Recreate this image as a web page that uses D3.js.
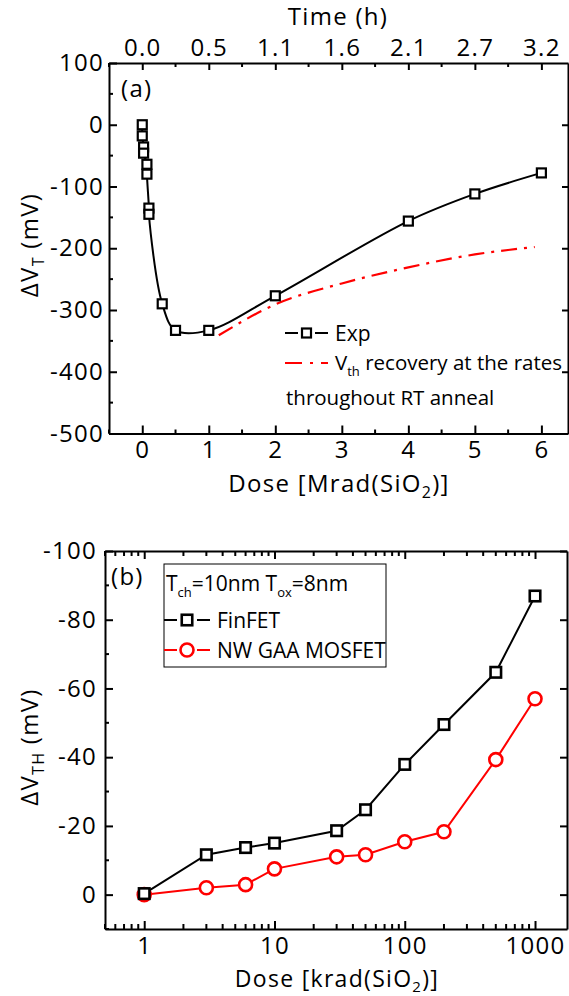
<!DOCTYPE html>
<html><head><meta charset="utf-8">
<script src="https://cdn.jsdelivr.net/npm/d3@7"></script>
<style>
html,body{margin:0;padding:0;background:#fff;}
svg text{font-family:"Open Sans",sans-serif;fill:#000;}
</style></head>
<body>
<svg id="c" width="569" height="996"></svg>
<script>
// ---------- Panel (a) data ----------
const expDose = [0, 0, 0.02, 0.02, 0.07, 0.07, 0.1, 0.1, 0.3, 0.5, 1, 2, 4, 5, 6];
const expDV   = [0, -18, -36, -46, -64, -80, -135, -145, -290, -333, -333, -277, -156, -112, -78];
const recDose = [1.15, 2, 3, 4, 5, 5.9];
const recDV   = [-341, -291, -257, -231, -210, -198];
const doseTicksA = [0, 1, 2, 3, 4, 5, 6];
const timeLabels = ["0.0", "0.5", "1.1", "1.6", "2.1", "2.7", "3.2"];
const yTicksA = [100, 0, -100, -200, -300, -400, -500];

// ---------- Panel (b) data ----------
const doseK = [1, 3, 6, 10, 30, 50, 100, 200, 500, 1000];
const finfet = [-0.3, -11.6, -13.7, -15, -18.6, -24.7, -37.9, -49.5, -64.7, -86.9];
const nwgaa  = [0, -2, -2.9, -7.5, -11, -11.6, -15.4, -18.3, -39.3, -57];
const xTicksB = [1, 10, 100, 1000];
const yTicksB = [0, -20, -40, -60, -80, -100];

const svg = d3.select("#c");
const FS = 24;
const LS = "1.3px";
const LFS = 21;
const fmt = d => String(d);
const DASH = "16,7,3,7";

// ====== Panel (a) ======
const xa = d3.scaleLinear().domain([-0.5, 6.4]).range([109, 568]);
const ya = d3.scaleLinear().domain([-500, 100]).range([433.5, 63]);
const ga = svg.append("g");

function styleAxis(g){
  g.selectAll("path.domain").attr("stroke","#000").attr("stroke-width",2);
  g.selectAll(".tick line").attr("stroke","#000").attr("stroke-width",2);
  g.selectAll(".tick text").attr("font-size",FS).attr("letter-spacing",LS).attr("font-family","Open Sans");
}
const minorA = d3.range(-0.5, 6.41, 0.5).filter(v => Math.abs(v - Math.round(v)) > 0.01);
const minorYA = d3.range(-450, 100, 100);

// bottom axis
let g = ga.append("g").attr("transform",`translate(0,${ya.range()[0]})`)
  .call(d3.axisBottom(xa).tickValues(doseTicksA).tickSizeInner(-8).tickSizeOuter(0).tickPadding(7).tickFormat(fmt));
styleAxis(g);
g.selectAll(".minor").data(minorA).enter().append("line")
  .attr("x1",d=>xa(d)).attr("x2",d=>xa(d)).attr("y1",0).attr("y2",-4).attr("stroke","#000").attr("stroke-width",2);
// top axis
g = ga.append("g").attr("transform",`translate(0,${ya.range()[1]})`)
  .call(d3.axisTop(xa).tickValues(doseTicksA).tickSizeInner(-7).tickSizeOuter(0).tickPadding(7).tickFormat((d,i)=>timeLabels[i]));
styleAxis(g);
g.selectAll(".minor").data(minorA).enter().append("line")
  .attr("x1",d=>xa(d)).attr("x2",d=>xa(d)).attr("y1",0).attr("y2",4).attr("stroke","#000").attr("stroke-width",2);
// left axis
g = ga.append("g").attr("transform",`translate(${xa.range()[0]},0)`)
  .call(d3.axisLeft(ya).tickValues(yTicksA).tickSizeInner(-8).tickSizeOuter(0).tickPadding(5).tickFormat(fmt));
styleAxis(g);
g.selectAll(".minor").data(minorYA).enter().append("line")
  .attr("y1",d=>ya(d)).attr("y2",d=>ya(d)).attr("x1",0).attr("x2",4).attr("stroke","#000").attr("stroke-width",2);
// right axis
g = ga.append("g").attr("transform",`translate(${xa.range()[1]},0)`)
  .call(d3.axisRight(ya).tickValues(yTicksA.slice(1,-1)).tickSizeInner(-6).tickSizeOuter(0).tickFormat(""));
styleAxis(g);

// exp curve
const lineA = d3.line().x((d,i)=>xa(expDose[i])).y((d,i)=>ya(expDV[i])).curve(d3.curveCatmullRom.alpha(0.5));
ga.append("path").attr("d", lineA(expDose)).attr("fill","none").attr("stroke","#000").attr("stroke-width",2);
// recovery line
const lineR = d3.line().x((d,i)=>xa(recDose[i])).y((d,i)=>ya(recDV[i])).curve(d3.curveMonotoneX);
ga.append("path").attr("d", lineR(recDose)).attr("fill","none").attr("stroke","#ff0000").attr("stroke-width",2.2)
  .attr("stroke-dasharray",DASH);
// squares
const SQ = 9;
ga.selectAll("rect.exp").data(expDose).enter().append("rect")
  .attr("x",(d,i)=>xa(expDose[i])-SQ/2).attr("y",(d,i)=>ya(expDV[i])-SQ/2)
  .attr("width",SQ).attr("height",SQ).attr("fill","#fff").attr("stroke","#000").attr("stroke-width",2.2);

ga.append("text").attr("x",121).attr("y",97).attr("font-size",FS).attr("letter-spacing",LS).text("(a)");

// legend (a)
ga.append("line").attr("x1",285).attr("x2",298).attr("y1",333).attr("y2",333).attr("stroke","#000").attr("stroke-width",2);
ga.append("line").attr("x1",315).attr("x2",328).attr("y1",333).attr("y2",333).attr("stroke","#000").attr("stroke-width",2);
ga.append("rect").attr("x",306.5-SQ/2).attr("y",333-SQ/2).attr("width",SQ).attr("height",SQ).attr("fill","#fff").attr("stroke","#000").attr("stroke-width",2.2);
ga.append("text").attr("x",335).attr("y",341).attr("font-size",LFS).text("Exp");
ga.append("line").attr("x1",285).attr("x2",328).attr("y1",363).attr("y2",363).attr("stroke","#ff0000").attr("stroke-width",2.2).attr("stroke-dasharray","17,8,3,8");
let t = ga.append("text").attr("x",335).attr("y",370).attr("font-size",20.5);
t.append("tspan").text("V");
t.append("tspan").attr("font-size",13).attr("dy",6).text("th");
t.append("tspan").attr("dy",-6).text(" recovery at the rates");
ga.append("text").attr("x",286).attr("y",405).attr("font-size",20.5).text("throughout RT anneal");

// axis titles (a)
t = ga.append("text").attr("x",339).attr("y",492).attr("text-anchor","middle").attr("font-size",FS).attr("letter-spacing",LS);
t.append("tspan").text("Dose [Mrad(SiO");
t.append("tspan").attr("font-size",16).attr("dy",6).text("2");
t.append("tspan").attr("dy",-6).text(")]");
ga.append("text").attr("x",338).attr("y",25).attr("text-anchor","middle").attr("font-size",FS).attr("letter-spacing",LS).text("Time (h)");
t = ga.append("text").attr("transform","translate(38,245) rotate(-90)").attr("text-anchor","middle").attr("font-size",FS).attr("letter-spacing",LS);
t.append("tspan").text("ΔV");
t.append("tspan").attr("font-size",16).attr("dy",6).text("T");
t.append("tspan").attr("dy",-6).text(" (mV)");

// ====== Panel (b) ======
const xb = d3.scaleLog().domain([0.5, 1760]).range([105, 567]);
const yb = d3.scaleLinear().domain([10, -100]).range([929, 551]);
const gb = svg.append("g");
const minorXB = [];
[0.1,1,10,100,1000].forEach(dec => { for (let k=2;k<=9;k++){ const v=dec*k; if (v>=0.5 && v<=1760 && ![1,10,100,1000].includes(v)) minorXB.push(v);} });
const minorYB = [10, -10, -30, -50, -70, -90];

g = gb.append("g").attr("transform",`translate(0,${yb.range()[0]})`)
  .call(d3.axisBottom(xb).tickValues(xTicksB).tickSizeInner(-8).tickSizeOuter(0).tickPadding(8).tickFormat(fmt));
styleAxis(g);
g.selectAll(".minor").data(minorXB).enter().append("line")
  .attr("x1",d=>xb(d)).attr("x2",d=>xb(d)).attr("y1",0).attr("y2",-5).attr("stroke","#000").attr("stroke-width",2);
g = gb.append("g").attr("transform",`translate(0,${yb.range()[1]})`)
  .call(d3.axisTop(xb).tickValues(xTicksB).tickSizeInner(-8).tickSizeOuter(0).tickFormat(""));
styleAxis(g);
g.selectAll(".minor").data(minorXB).enter().append("line")
  .attr("x1",d=>xb(d)).attr("x2",d=>xb(d)).attr("y1",0).attr("y2",5).attr("stroke","#000").attr("stroke-width",2);
g = gb.append("g").attr("transform",`translate(${xb.range()[0]},0)`)
  .call(d3.axisLeft(yb).tickValues(yTicksB).tickSizeInner(-8).tickSizeOuter(0).tickPadding(8).tickFormat(fmt));
styleAxis(g);
g.selectAll(".minor").data(minorYB).enter().append("line")
  .attr("y1",d=>yb(d)).attr("y2",d=>yb(d)).attr("x1",0).attr("x2",4).attr("stroke","#000").attr("stroke-width",2);
g = gb.append("g").attr("transform",`translate(${xb.range()[1]},0)`)
  .call(d3.axisRight(yb).tickValues(yTicksB).tickSizeInner(-7).tickSizeOuter(0).tickFormat(""));
styleAxis(g);

const lineF = d3.line().x((d,i)=>xb(doseK[i])).y((d,i)=>yb(finfet[i]));
const lineN = d3.line().x((d,i)=>xb(doseK[i])).y((d,i)=>yb(nwgaa[i]));
gb.append("path").attr("d",lineN(doseK)).attr("fill","none").attr("stroke","#ff0000").attr("stroke-width",2);
gb.append("path").attr("d",lineF(doseK)).attr("fill","none").attr("stroke","#000").attr("stroke-width",2);
gb.selectAll("circle.nw").data(doseK).enter().append("circle")
  .attr("cx",(d,i)=>xb(doseK[i])).attr("cy",(d,i)=>yb(nwgaa[i])).attr("r",6.5)
  .attr("fill","#fff").attr("stroke","#ff0000").attr("stroke-width",2.6);
const SQB = 10.5;
gb.selectAll("rect.ff").data(doseK).enter().append("rect")
  .attr("x",(d,i)=>xb(doseK[i])-SQB/2).attr("y",(d,i)=>yb(finfet[i])-SQB/2)
  .attr("width",SQB).attr("height",SQB).attr("fill","#fff").attr("stroke","#000").attr("stroke-width",2.6);

gb.append("text").attr("x",111).attr("y",585).attr("font-size",FS).attr("letter-spacing",LS).text("(b)");

// legend (b)
gb.append("rect").attr("x",164).attr("y",564).attr("width",222).attr("height",103).attr("fill","#fff").attr("stroke","#000").attr("stroke-width",1);
t = gb.append("text").attr("x",166).attr("y",591).attr("font-size",LFS);
t.append("tspan").text("T");
t.append("tspan").attr("font-size",13).attr("dy",6).text("ch");
t.append("tspan").attr("dy",-6).text("=10nm T");
t.append("tspan").attr("font-size",13).attr("dy",6).text("ox");
t.append("tspan").attr("dy",-6).text("=8nm");
gb.append("line").attr("x1",164).attr("x2",177).attr("y1",620).attr("y2",620).attr("stroke","#000").attr("stroke-width",2);
gb.append("line").attr("x1",197).attr("x2",210).attr("y1",620).attr("y2",620).attr("stroke","#000").attr("stroke-width",2);
gb.append("rect").attr("x",187-SQB/2).attr("y",620-SQB/2).attr("width",SQB).attr("height",SQB).attr("fill","#fff").attr("stroke","#000").attr("stroke-width",2.6);
gb.append("text").attr("x",217).attr("y",628).attr("font-size",LFS).text("FinFET");
gb.append("line").attr("x1",164).attr("x2",177).attr("y1",650).attr("y2",650).attr("stroke","#ff0000").attr("stroke-width",2);
gb.append("line").attr("x1",197).attr("x2",210).attr("y1",650).attr("y2",650).attr("stroke","#ff0000").attr("stroke-width",2);
gb.append("circle").attr("cx",187).attr("cy",650).attr("r",6.5).attr("fill","#fff").attr("stroke","#ff0000").attr("stroke-width",2.6);
gb.append("text").attr("x",217).attr("y",658).attr("font-size",LFS).text("NW GAA MOSFET");

t = gb.append("text").attr("x",337).attr("y",987).attr("text-anchor","middle").attr("font-size",23).attr("letter-spacing",LS);
t.append("tspan").text("Dose [krad(SiO");
t.append("tspan").attr("font-size",15).attr("dy",5).text("2");
t.append("tspan").attr("dy",-5).text(")]");
t = gb.append("text").attr("transform","translate(38,747) rotate(-90)").attr("text-anchor","middle").attr("font-size",FS).attr("letter-spacing",LS);
t.append("tspan").text("ΔV");
t.append("tspan").attr("font-size",16).attr("dy",6).text("TH");
t.append("tspan").attr("dy",-6).text(" (mV)");
</script>
</body></html>
